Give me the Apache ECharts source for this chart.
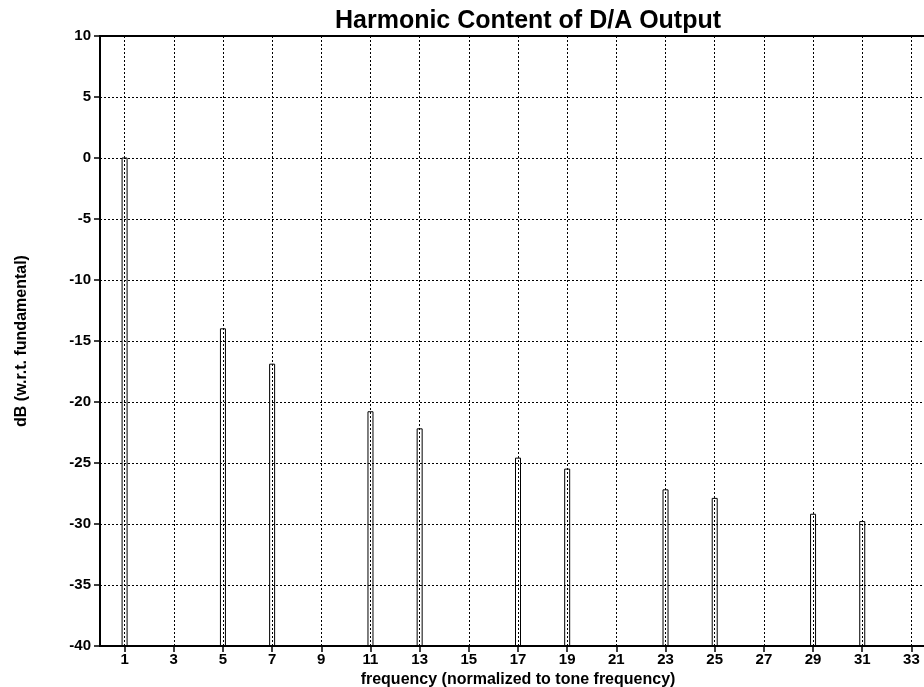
<!DOCTYPE html>
<html>
<head>
<meta charset="utf-8">
<script src="https://cdn.jsdelivr.net/npm/echarts@6/dist/echarts.min.js"></script>
<style>html,body{margin:0;padding:0;background:#fff}#c{width:924px;height:687px}</style>
</head>
<body>
<div id="c"></div>
<script>
var harmonics = [1, 5, 7, 11, 13, 17, 19, 23, 25, 29, 31];
var levels = [0, -14, -16.9, -20.8, -22.2, -24.6, -25.5, -27.2, -27.9, -29.2, -29.8];
var xTicks = [1, 3, 5, 7, 9, 11, 13, 15, 17, 19, 21, 23, 25, 27, 29, 31, 33];
var yMin = -40, yMax = 10, yStep = 5;

var FONT = '"Liberation Sans", Arial, Helvetica, sans-serif';
var chart = echarts.init(document.getElementById('c'), null, {renderer: 'canvas'});
var data = harmonics.map(function (h, i) { return [h, levels[i]]; });

chart.setOption({
  animation: false,
  backgroundColor: '#fff',
  title: {
    text: 'Harmonic Content of D/A Output',
    left: 523, top: 4, textAlign: 'center',
    textStyle: {fontFamily: FONT, fontWeight: 'bold', fontSize: 25, color: '#000'}
  },
  grid: {left: 100, top: 36, width: 836, height: 610, outerBoundsMode: 'none', containLabel: false,
         show: true, borderColor: '#000', borderWidth: 2, backgroundColor: 'transparent'},
  xAxis: {
    type: 'value', min: 0, max: 34,
    name: 'frequency (normalized to tone frequency)',
    nameLocation: 'middle', nameGap: 23,
    nameTextStyle: {fontFamily: FONT, fontWeight: 'bold', fontSize: 16, color: '#000'},
    axisLine: {show: true, onZero: false, lineStyle: {color: '#000', width: 2}},
    axisTick: {show: true, length: 6, customValues: xTicks, lineStyle: {color: '#000', width: 1.5}},
    axisLabel: {customValues: xTicks, margin: 6, fontFamily: FONT, fontWeight: 'bold', fontSize: 15, color: '#000'},
    splitLine: {show: true, lineStyle: {color: '#000', width: 1, type: [2, 2]}}
  },
  yAxis: {
    type: 'value', min: yMin, max: yMax, interval: yStep,
    name: 'dB (w.r.t. fundamental)',
    nameLocation: 'middle', nameGap: 70, nameRotate: 90,
    nameTextStyle: {fontFamily: FONT, fontWeight: 'bold', fontSize: 16, color: '#000'},
    axisLine: {show: true, onZero: false, lineStyle: {color: '#000', width: 2}},
    axisTick: {show: true, length: 6, lineStyle: {color: '#000', width: 1.5}},
    axisLabel: {margin: 9, fontFamily: FONT, fontWeight: 'bold', fontSize: 15, color: '#000'},
    splitLine: {show: true, lineStyle: {color: '#000', width: 1, type: [2, 2]}}
  },
  series: [{
    type: 'custom',
    data: data,
    clip: true,
    renderItem: function (params, api) {
      var x = api.value(0), v = api.value(1);
      var top = api.coord([x, v]);
      var base = api.coord([x, yMin]);
      var w = 5;
      return {
        type: 'rect',
        shape: {x: top[0] - w / 2, y: top[1], width: w, height: base[1] - top[1]},
        style: {fill: 'rgba(0,0,0,0)', stroke: '#000', lineWidth: 1}
      };
    }
  }]
});
</script>
</body>
</html>
